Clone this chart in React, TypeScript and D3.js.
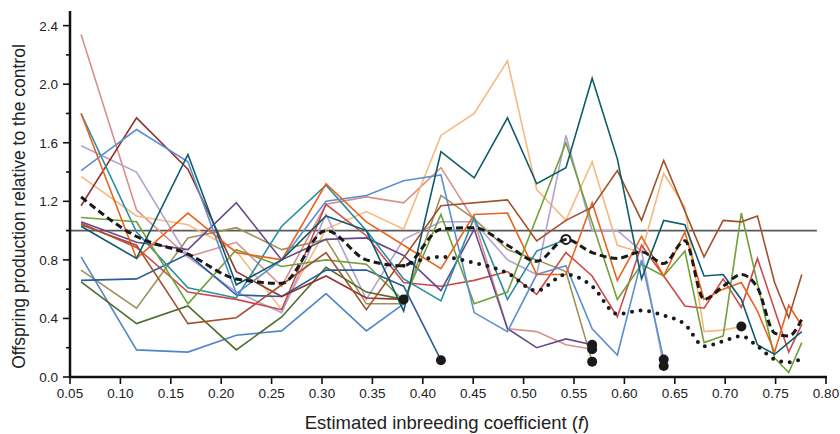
import * as d3 from 'd3'

// inbreeding coefficient at each sampling point
const fVals = [0.061, 0.116, 0.167, 0.215, 0.260, 0.304, 0.344, 0.381, 0.418, 0.451, 0.484, 0.513, 0.542,
  0.568, 0.593, 0.617, 0.639, 0.660, 0.679, 0.698, 0.716, 0.732, 0.749, 0.763, 0.776]

const _ = null
// offspring production per line (null = no sample at that f)
const pink = [2.34, 1.14, 0.82, 0.92, 0.62, 1.18, 1.23, 1.19, 1.43, 1.07, 0.33, 0.31, 0.22, 0.19]
const peach = [1.37, 1.10, 1.04, 0.86, 0.46, 1.01, 1.13, 1.01, 1.65, 1.80, 2.16, 1.28, 1.07, 1.47, 0.90, 0.85, 1.39, 1.16, 0.31, 0.32, 0.345]
const darkTeal = [1.03, 0.81, 1.52, 0.63, 0.80, 1.10, 1.00, 0.45, 1.54, 1.36, 1.77, 1.32, 1.43, 2.04, 1.49, 0.67, 1.07, 1.04, 0.69, 0.70, 0.53, 0.22, 0.155, _, 0.31]
const maroon = [1.17, 1.77, 1.42, 0.72, 0.55, 0.69, 0.54, 0.53]
const blue = [1.41, 1.69, 1.47, 0.57, 0.80, 1.20, 1.24, 1.34, 1.38, 0.44, 0.31, 0.70, 0.76, 0.33, 0.15, 0.80, 0.12]
const orange = [1.80, 0.81, 1.12, 0.85, 0.80, 1.32, 1.06, 0.90, 0.74, 1.11, 1.12, 0.70, 0.70, 1.19, 0.66, 0.96, 0.69, 0.99, 0.53, 0.60, 0.645, 0.45, 0.17, 0.49, 0.35]
const teal = [1.80, 0.99, 0.61, 0.54, 1.03, 1.31, 1.00, 0.67, 0.52, 1.09, 0.53, 0.86, 0.94]
const lavender = [1.58, 1.40, 0.82, 0.58, 0.44, 1.11, 0.53, 0.94, 1.06, 1.06, 0.80, 0.70, 1.65, 1.00, 1.00, 0.86, 0.075]
const green = [1.09, 1.06, 0.50, 0.87, 0.755, 0.80, 0.77, 0.52, 1.11, 0.50, 0.58, _, 1.60, _, 0.53, 0.77, 0.69, 0.86, 0.235, 0.28, 1.12, _, 0.13, 0.03, 0.235]
const khaki = [0.73, 0.47, 0.95, 1.02, 0.87, 0.94, 0.50, 0.50, 1.24, 1.08, 0.87, 0.80, 0.72, 0.105]
const darkGreen = [0.65, 0.365, 0.485, 0.185, 0.41, 0.75, 0.58, 0.53]
const lowBlue = [0.82, 0.185, 0.17, 0.285, 0.315, 0.57, 0.315, 0.50]
const darkBlue = [0.66, 0.67, 0.84, 0.56, 0.55, 0.73, 0.73, 0.62, 0.115]
const purple = [1.06, 0.92, 0.87, 1.19, 0.80, 0.94, 0.95, 0.83, 0.59, 1.01, 0.33, 0.20, 0.26, 0.22]
const red = [1.05, 0.885, 0.58, 0.53, 0.46, 1.18, 0.965, 0.645, 0.62, 0.66, 0.72, 0.565, 0.85, 0.69, 0.41, 0.90, 0.69, 0.485, 0.47, 0.67, 0.475, 0.81, _, 0.17, 0.36]
const sienna = [1.04, 0.90, 0.365, 0.405, 0.63, 0.85, 0.46, _, 1.17, _, 1.21, 0.93, 1.07, 1.16, 1.41, 1.07, 1.48, _, 0.82, 1.07, 1.06, 1.10, 0.645, 0.405, 0.70]

// means
const meanAll = [1.23, 0.96, 0.84, 0.67, 0.64, 1.00, 0.80, 0.76, 1.01, 1.02, 0.90, 0.79, 0.94, 0.85, 0.81, 0.855, 0.775, 0.93, 0.53, 0.62, 0.70, 0.61, 0.30, 0.28, 0.395]
const meanSurv = [_, _, _, _, _, _, _, 0.76, 0.82, 0.78, 0.71, 0.59, 0.70, 0.62, 0.43, 0.455, 0.42, 0.36, 0.21, 0.245, 0.28, 0.21, 0.12, 0.10, 0.125]

const xTicks = [0.05, 0.10, 0.15, 0.20, 0.25, 0.30, 0.35, 0.40, 0.45, 0.50, 0.55, 0.60, 0.65, 0.70, 0.75, 0.80]
const yTicks = [0, 0.4, 0.8, 1.2, 1.6, 2.0, 2.4]
const yMinor = [0.2, 0.6, 1.0, 1.4, 1.8, 2.2]

const SERIES = [
  { values: pink, color: '#d9908a', end: 'dot' },
  { values: peach, color: '#f7b97f', end: 'dot' },
  { values: lavender, color: '#b3a1cf', end: 'dot' },
  { values: khaki, color: '#9c9258', end: 'dot' },
  { values: lowBlue, color: '#4f86c9', end: null },
  { values: darkGreen, color: '#4e6c2a', end: null },
  { values: red, color: '#cb4b4b', end: null },
  { values: purple, color: '#664a8c', end: 'dot' },
  { values: darkBlue, color: '#2b5c9c', end: 'dot' },
  { values: maroon, color: '#93352e', end: 'dot' },
  { values: teal, color: '#2a8fa0', end: 'open' },
  { values: green, color: '#71a03a', end: null },
  { values: blue, color: '#5a8fd3', end: 'dot' },
  { values: orange, color: '#e8641e', end: null },
  { values: sienna, color: '#a3502a', end: null },
  { values: darkTeal, color: '#0e5b6b', end: null },
]

const W = 840
const H = 434
const M = { left: 70, right: 14, top: 11, bottom: 57 }
const FONT = '"Liberation Sans", Arial, sans-serif'

const toPts = (vals: (number | null)[]) =>
  fVals.map((f, i) => [f, vals[i]] as [number, number | null]).filter(p => p[1] != null) as [number, number][]

export default function App() {
  const x = d3.scaleLinear().domain([0.05, 0.80]).range([M.left, W - M.right])
  const y = d3.scaleLinear().domain([0, 2.5]).range([H - M.bottom, M.top])
  const line = d3.line<[number, number]>().x(d => x(d[0])).y(d => y(d[1]))
  const smooth = d3.line<[number, number]>().x(d => x(d[0])).y(d => y(d[1])).curve(d3.curveMonotoneX)
  const y0 = y(0)

  return (
    <svg width={W} height={H} style={{ position: 'absolute', left: 0, top: 0, background: '#fff' }}>
      {/* control reference */}
      <line x1={x(0.05)} x2={x(0.791)} y1={y(1)} y2={y(1)} stroke="#5a5a5a" strokeWidth={1.6} />

      {SERIES.map((s, i) => (
        <path key={i} d={line(toPts(s.values)) ?? ''} fill="none" stroke={s.color} strokeWidth={1.6} strokeLinejoin="miter" />
      ))}

      <path d={smooth(toPts(meanAll)) ?? ''} fill="none" stroke="#1a1a1a" strokeWidth={3} strokeDasharray="7,4" />
      <path d={smooth(toPts(meanSurv)) ?? ''} fill="none" stroke="#1a1a1a" strokeWidth={4} strokeDasharray="0,8.6" strokeLinecap="round" />

      {SERIES.filter(s => s.end).map((s, i) => {
        const pts = toPts(s.values)
        const [f, v] = pts[pts.length - 1]
        return s.end === 'dot'
          ? <circle key={i} cx={x(f)} cy={y(v)} r={5} fill="#1a1a1a" />
          : <circle key={i} cx={x(f)} cy={y(v)} r={4.5} fill="none" stroke="#1a1a1a" strokeWidth={2} />
      })}

      {/* axes */}
      <line x1={M.left} x2={M.left} y1={y(2.5)} y2={y0 + 1} stroke="#111" strokeWidth={2.5} />
      <line x1={M.left - 1} x2={x(0.80) + 1} y1={y0} y2={y0} stroke="#111" strokeWidth={2.5} />
      {yTicks.map(t => (
        <g key={t}>
          <line x1={M.left - 7} x2={M.left} y1={y(t)} y2={y(t)} stroke="#111" strokeWidth={1.6} />
          <text x={M.left - 12} y={y(t)} dy="0.36em" textAnchor="end" fontFamily={FONT} fontSize={13.5} fill="#222">{t.toFixed(1)}</text>
        </g>
      ))}
      {yMinor.map(t => (
        <line key={t} x1={M.left - 4} x2={M.left} y1={y(t)} y2={y(t)} stroke="#111" strokeWidth={1.6} />
      ))}
      {xTicks.map(t => (
        <g key={t}>
          <line x1={x(t)} x2={x(t)} y1={y0} y2={y0 + 7} stroke="#111" strokeWidth={1.6} />
          <text x={x(t)} y={y0 + 21} textAnchor="middle" fontFamily={FONT} fontSize={13.5} fill="#222">{t.toFixed(2)}</text>
        </g>
      ))}

      <text x={447} y={429} textAnchor="middle" fontFamily={FONT} fontSize={18.5} fill="#222">
        Estimated inbreeding coefficient (<tspan fontStyle="italic">f</tspan>)
      </text>
      <text transform={`translate(25,206.5) rotate(-90)`} textAnchor="middle" fontFamily={FONT} fontSize={17.5} fill="#222">
        Offspring production relative to the control
      </text>
    </svg>
  )
}
